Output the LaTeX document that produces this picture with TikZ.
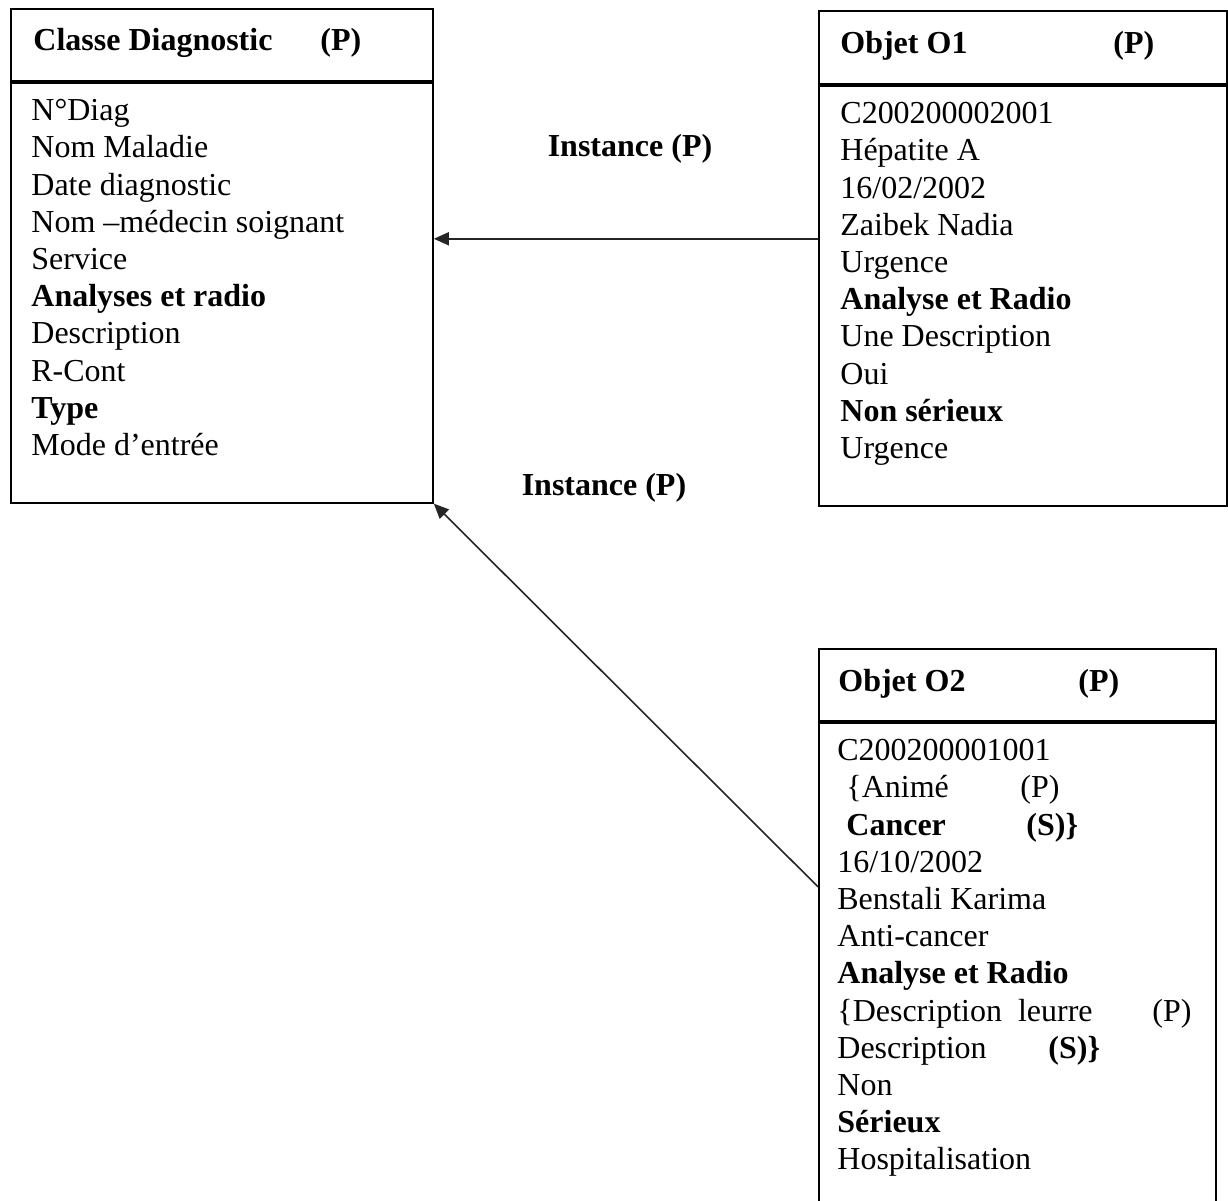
\documentclass[tikz,border=0pt]{standalone}
\usepackage{fontspec}
\setmainfont{Liberation Serif}
\usetikzlibrary{arrows.meta, positioning, calc}

\begin{document}
\begin{tikzpicture}[x=0.5pt, y=-0.5pt, >={Triangle[length=7.5pt,width=6.5pt]},
                    box/.style={draw, line width=0.9pt, inner sep=0pt, anchor=north west},
                    lines/.style={anchor=north west, inner sep=0pt, align=left,
                                  font=\fontsize{16}{18.6}\selectfont},
                    ttl/.style={inner sep=0pt, font=\fontsize{16}{18}\selectfont\bfseries},
                    inst/.style={->, line width=0.8pt, draw=black!85}]

\useasboundingbox (0,0) rectangle (1228,1201);

% Boxes
\node[box, minimum width=211pt, minimum height=36pt] (classHead) at (10,8) {};
\node[box, minimum width=211pt, minimum height=210pt] (classBody) at (classHead.south west) {};

\node[box, minimum width=204pt, minimum height=36.5pt] (o1Head) at (818,10) {};
\node[box, minimum width=204pt, minimum height=210pt] (o1Body) at (o1Head.south west) {};

\node[box, minimum width=198.5pt, minimum height=36pt] (o2Head) at (818,648) {};
\node[box, minimum width=198.5pt, minimum height=270pt] (o2Body) at (o2Head.south west) {};

% Titles
\node[ttl, anchor=west] (classTitle) at (33,43) {Classe Diagnostic};
\node[ttl, anchor=west] (classP) at (320,43) {(P)};
\node[ttl, anchor=west] (o1Title) at (840,46) {Objet O1};
\node[ttl, anchor=west] (o1P) at (1113,46) {(P)};
\node[ttl, anchor=west] (o2Title) at (838,684) {Objet O2};
\node[ttl, anchor=west] (o2P) at (1078,684) {(P)};

% Attributes
\node[lines] (classAttr) at (31,99) {N°Diag\\Nom Maladie\\Date diagnostic\\Nom –médecin soignant\\Service\\
  \textbf{Analyses et radio}\\Description\\R-Cont\\\textbf{Type}\\Mode d’entrée};

\node[lines] (o1Attr) at (840,102) {C200200002001\\Hépatite A\\16/02/2002\\Zaibek Nadia\\Urgence\\
  \textbf{Analyse et Radio}\\Une Description\\Oui\\\textbf{Non sérieux}\\Urgence};

\node[lines] (o2Attr) at (837,739) {C200200001001\\
  \hspace{4.5pt}\makebox[87pt][l]{\{Animé}(P)\\
  \hspace{4.5pt}\textbf{\makebox[90pt][l]{Cancer}(S)\}}\\
  16/10/2002\\Benstali Karima\\Anti-cancer\\\textbf{Analyse et Radio}\\
  \makebox[157.5pt][l]{\{Description\enspace leurre}(P)\\
  \makebox[105.5pt][l]{Description}\textbf{(S)\}}\\
  Non\\\textbf{Sérieux}\\Hospitalisation};

% Instance links
\node[ttl] (inst1) at (630,149) {Instance (P)};
\node[ttl] (inst2) at (604,488) {Instance (P)};

\coordinate (o1Port) at ($(o1Head.south west)+(0,154)$);
\coordinate (o2Port) at ($(o2Head.south west)+(0,165)$);
\draw[inst] (o1Port) -- (o1Port -| classBody.east);
\draw[inst] (o2Port) -- (classBody.south east);

\end{tikzpicture}
\end{document}
